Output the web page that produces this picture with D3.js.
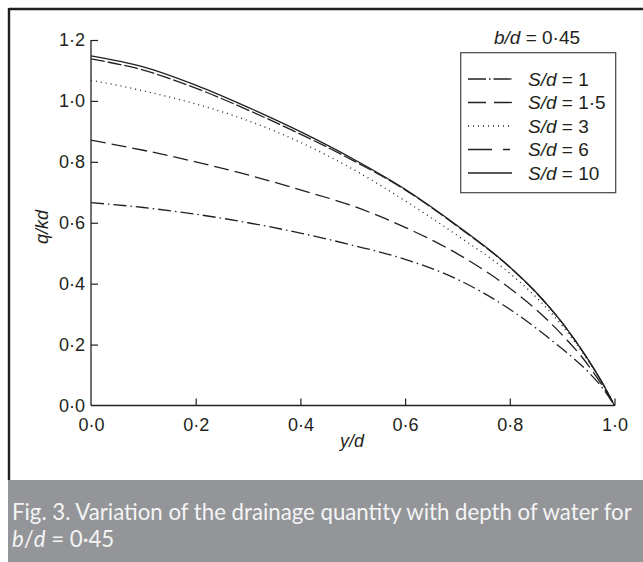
<!DOCTYPE html>
<html><head><meta charset="utf-8">
<script src="https://cdn.jsdelivr.net/npm/d3@7"></script>
<style>body{margin:0;background:#fff}svg{display:block}</style>
</head><body>
<svg id="chart" width="643" height="562"></svg>
<script>
// ---- data ----
const xVals = [0, 0.1, 0.2, 0.3, 0.4, 0.5, 0.6, 0.7, 0.8, 0.85, 0.9, 0.95, 0.975, 1.0];
const sd1   = [0.666, 0.650, 0.628, 0.600, 0.566, 0.526, 0.480, 0.414, 0.316, 0.254, 0.186, 0.110, 0.062, 0];
const sd1_5 = [0.871, 0.838, 0.800, 0.757, 0.708, 0.655, 0.585, 0.498, 0.385, 0.315, 0.232, 0.132, 0.070, 0];
const sd3   = [1.068, 1.033, 0.990, 0.935, 0.864, 0.776, 0.672, 0.558, 0.434, 0.356, 0.262, 0.146, 0.079, 0];
const sd6   = [1.138, 1.101, 1.042, 0.970, 0.891, 0.805, 0.708, 0.588, 0.454, 0.371, 0.271, 0.149, 0.079, 0];
const sd10  = [1.148, 1.112, 1.052, 0.979, 0.899, 0.810, 0.710, 0.590, 0.455, 0.372, 0.272, 0.150, 0.080, 0];
const seriesLabels = ["1", "1·5", "3", "6", "10"];
const xTicks = [0, 0.2, 0.4, 0.6, 0.8, 1.0];
const yTicks = [0, 0.2, 0.4, 0.6, 0.8, 1.0, 1.2];
const fmt = v => v.toFixed(1).replace(".", "·");

const series = [
  {vals: sd1,   dash: "13,4,1.5,4", legDash: "18,3,1.5,3"},
  {vals: sd1_5, dash: "15,6",       legDash: "18,8"},
  {vals: sd3,   dash: "1,4",        legDash: "1,4"},
  {vals: sd6,   dash: "14,3",       legDash: "24,11,7,20"},
  {vals: sd10,  dash: null,         legDash: null}
];

const ink = "#231f20";
const svg = d3.select("#chart");

// ---- frame ----
svg.append("rect").attr("x", 8).attr("y", 480).attr("width", 635).attr("height", 82).attr("fill", "#939598");
svg.append("line").attr("x1", 9).attr("x2", 643).attr("y1", 9).attr("y2", 9).attr("stroke", ink).attr("stroke-width", 2.4);
svg.append("line").attr("x1", 9).attr("x2", 9).attr("y1", 8).attr("y2", 480).attr("stroke", ink).attr("stroke-width", 2.4);

// ---- scales ----
const x = d3.scaleLinear().domain([0, 1]).range([91, 614.5]);
const y = d3.scaleLinear().domain([0, 1.2]).range([405.5, 40]);

const tickFont = "Liberation Sans, Arial, sans-serif";

const gx = svg.append("g").attr("transform", `translate(0,${y(0)})`)
  .call(d3.axisBottom(x).tickValues(xTicks).tickFormat(fmt).tickSize(-7).tickPadding(13).tickSizeOuter(0));
const gy = svg.append("g").attr("transform", `translate(${x(0)},0)`)
  .call(d3.axisLeft(y).tickValues(yTicks).tickFormat(fmt).tickSize(-7).tickPadding(6).tickSizeOuter(0));
[gx, gy].forEach(g => {
  g.select(".domain").attr("stroke", ink).attr("stroke-width", 1.3);
  g.selectAll(".tick line").attr("stroke", ink).attr("stroke-width", 1.2);
  g.selectAll(".tick text").attr("fill", ink).style("font-family", tickFont).style("font-size", "18px");
});
gx.selectAll(".tick").filter(d => d === 0).select("line").remove();
gy.selectAll(".tick").filter(d => d === 0).select("line").remove();
gy.select(".domain").attr("d", `M0,${y(0)}V${y(1.2)}`);
gx.select(".domain").attr("d", `M${x(0)},0H${x(1)}`);

// ---- axis titles ----
svg.append("text").attr("x", 352).attr("y", 447).attr("text-anchor", "middle")
  .style("font-family", tickFont).style("font-size", "18px").style("font-style", "italic").attr("fill", ink)
  .text("y/d");
svg.append("text").attr("transform", "translate(48,227) rotate(-90)").attr("text-anchor", "middle")
  .style("font-family", tickFont).style("font-size", "18px").style("font-style", "italic").attr("fill", ink)
  .text("q/kd");

// ---- lines ----
const line = d3.line().x((d, i) => x(xVals[i])).y(d => y(d)).curve(d3.curveMonotoneX);
series.forEach(s => {
  svg.append("path").datum(s.vals).attr("d", line)
    .attr("fill", "none").attr("stroke", ink).attr("stroke-width", 1.3)
    .attr("stroke-dasharray", s.dash);
});

// ---- legend ----
const lt = svg.append("text").attr("x", 537).attr("y", 44).attr("text-anchor", "middle")
  .style("font-family", tickFont).style("font-size", "19px").attr("fill", ink);
lt.append("tspan").style("font-style", "italic").text("b/d");
lt.append("tspan").text(" = 0·45");

svg.append("rect").attr("x", 460.7).attr("y", 52.7).attr("width", 155).attr("height", 140)
  .attr("fill", "none").attr("stroke", "#444").attr("stroke-width", 1.2);

const rowY = d3.scaleLinear().domain([0, 4]).range([79, 173]);
series.forEach((s, i) => {
  const cy = rowY(i);
  svg.append("line").attr("x1", 468).attr("x2", 512).attr("y1", cy).attr("y2", cy)
    .attr("stroke", ink).attr("stroke-width", 1.3).attr("stroke-dasharray", s.legDash);
  const t = svg.append("text").attr("x", 528).attr("y", cy + 6.5)
    .style("font-family", tickFont).style("font-size", "19px").attr("fill", ink);
  t.append("tspan").style("font-style", "italic").text("S/d");
  t.append("tspan").text(" = " + seriesLabels[i]);
});

// ---- caption ----
const capFont = "Lato, 'Open Sans', sans-serif";
const c1 = svg.append("text").attr("x", 12).attr("y", 520)
  .style("font-family", capFont).style("font-size", "19px").attr("fill", "#f4f4f4")
  .text("Fig. 3. Variation of the drainage quantity with depth of water for");
const w = c1.node().getComputedTextLength();
const fs = 19 * 620 / w;
c1.style("font-size", fs + "px");
const c2 = svg.append("text").attr("x", 12).attr("y", 547)
  .style("font-family", capFont).style("font-size", fs + "px").attr("fill", "#f4f4f4");
c2.append("tspan").style("font-style", "italic").text("b");
c2.append("tspan").text("/");
c2.append("tspan").style("font-style", "italic").text("d");
c2.append("tspan").text(" = 0·45");
</script>
</body></html>
